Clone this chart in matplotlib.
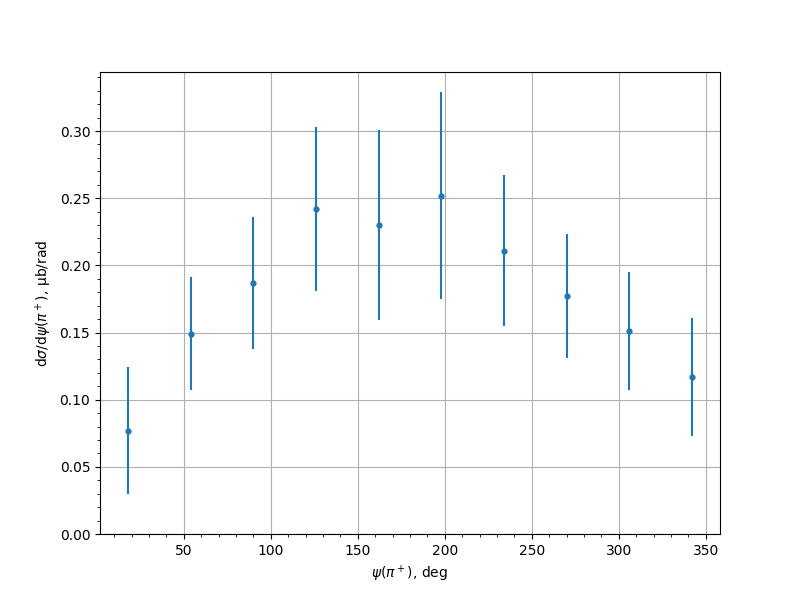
"""Differential cross section vs psi angle."""

import matplotlib

matplotlib.use("Agg")
import matplotlib.pyplot as plt

psi_deg = [18, 54, 90, 126, 162, 198, 234, 270, 306, 342]
dsigma = [0.077, 0.149, 0.187, 0.242, 0.230, 0.252, 0.211, 0.177, 0.151, 0.117]
dsigma_err = [0.047, 0.042, 0.049, 0.061, 0.071, 0.077, 0.056, 0.046, 0.044, 0.044]

fig, ax = plt.subplots(figsize=(8, 6), dpi=100)
ax.errorbar(psi_deg, dsigma, yerr=dsigma_err, fmt="o", markersize=3.5, color="#1f77b4")
ax.set_ylim(bottom=0)
ax.minorticks_on()
ax.grid(which="major")
ax.set_xlabel(r"$\psi(\pi^+)$, deg")
ax.set_ylabel(r"d$\sigma$/d$\psi(\pi^+)$, μb/rad")
fig.savefig("out.png", dpi=100)
